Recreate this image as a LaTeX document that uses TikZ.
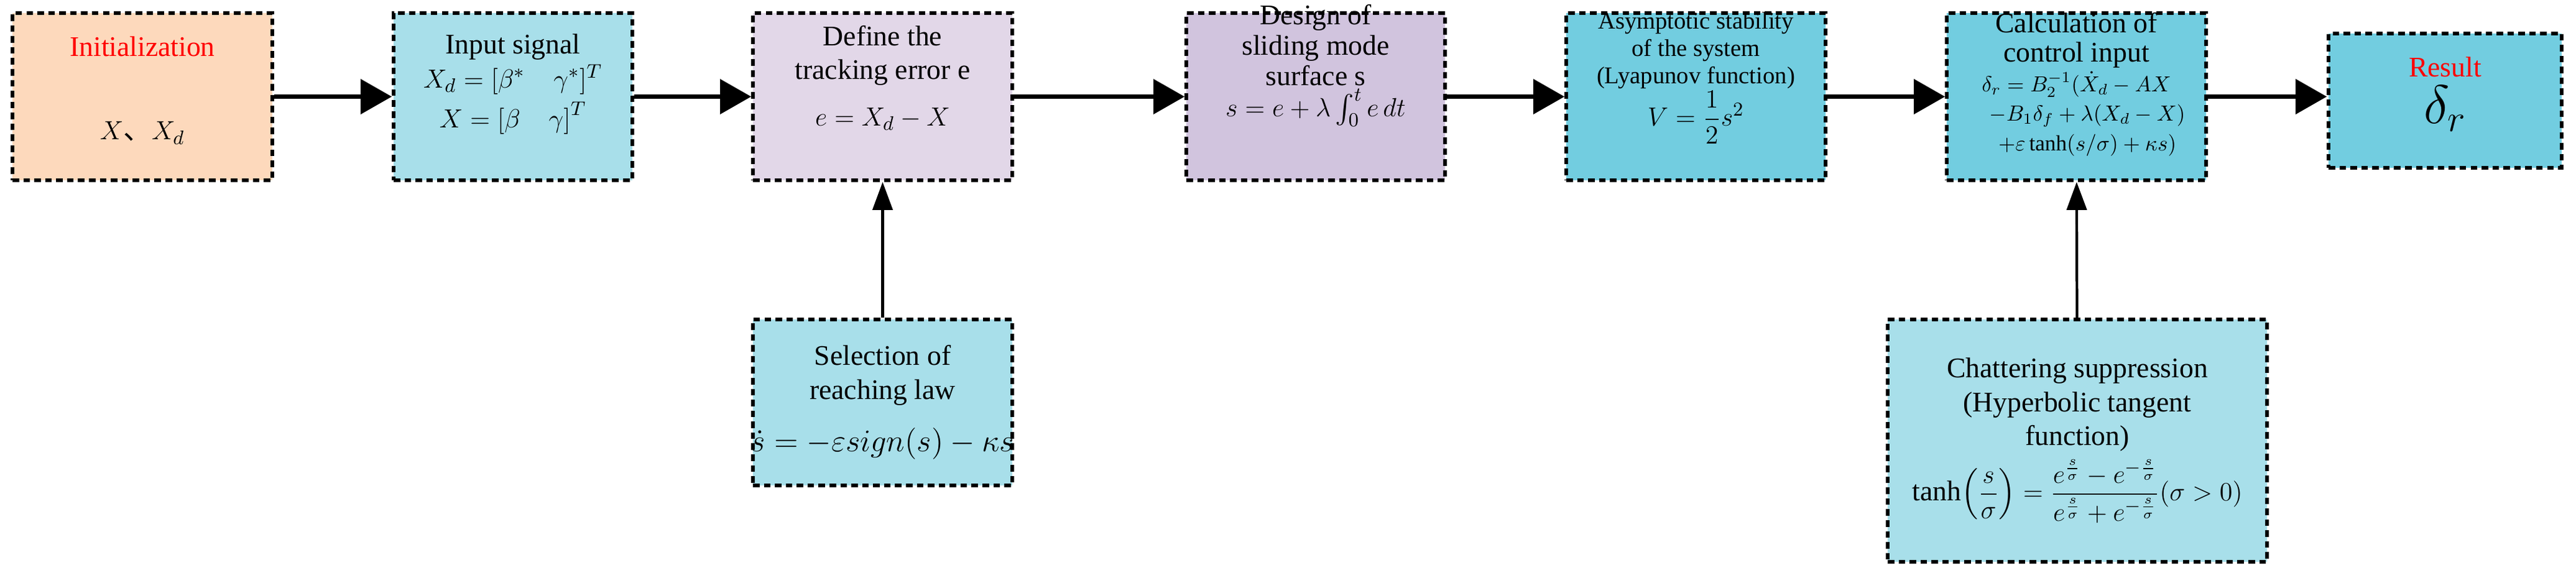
\documentclass[tikz,border=0pt]{standalone}
\usepackage{amsmath,amssymb}
\usepackage{fontspec}
\setmainfont{Liberation Serif}
\newfontfamily\cjk{Noto Sans CJK SC}
\usepackage{tikz}
\usetikzlibrary{
	arrows.meta,
	calc,
	positioning,
}
\definecolor{peach}{HTML}{FDD9BC}
\definecolor{lcyan}{HTML}{A8DFEA}
\definecolor{lavender}{HTML}{E2D7E8}
\definecolor{lilac}{HTML}{D1C4DE}
\definecolor{dcyan}{HTML}{72CDE0}
\tikzset{step box/.style={
	draw,
	densely dashed,
	line width=1.6pt,
	inner sep=0mm,
	minimum width=4.17cm,
	minimum height=2.69cm,
	},
	step text/.style={
	align=center,
	inner sep=0mm,
	font=\fontsize{13}{15.5}\selectfont,
	},
	main arrow/.style={line width=2pt,-{Triangle[length=5mm,width=5.5mm]}},
	side arrow/.style={line width=1.2pt,-{Triangle[length=4.5mm,width=3.2mm]}},
}

\begin{document}
\begin{tikzpicture}
\useasboundingbox (0,0) rectangle (41.43,9.29);

\node(init)[step box,fill=peach,minimum width=4.18cm,
	label={[step text,yshift=1mm]center:{\textcolor{red}{Initialization}\\[8mm] $X${\cjk 、}$X_d$}}] at(2.29,7.735) {};
\node(input)[step box,fill=lcyan,minimum width=3.84cm,
	label={[step text,yshift=2mm]center:{Input signal\\ $X_d=[\beta^{*}\quad\gamma^{*}]^{T}$\\[1mm] $X=\left[\beta\quad\gamma\right]^{T}$}}] at(8.25,7.735) {};
\node(error)[step box,fill=lavender,
	label={[step text,yshift=3mm]center:{Define the\\ tracking error e\\[2mm] $e=X_d-X$}}] at(14.195,7.735) {};
\node(surface)[step box,fill=lilac,minimum width=4.16cm,
	label={[step text,font=\fontsize{13}{14}\selectfont,yshift=5mm]center:{Design of\\ sliding mode\\ surface s\\ $s=e+\lambda\int_0^t e\,dt$}}] at(21.16,7.735) {};
\node(stable)[step box,fill=dcyan,
	label={[step text,font=\fontsize{11}{12.5}\selectfont,yshift=3mm]center:{Asymptotic stability\\ of the system\\ (Lyapunov function)\\ {\fontsize{13}{15}\selectfont$V=\dfrac{1}{2}s^{2}$}}}] at(27.275,7.735) {};
\node(control)[step box,fill=dcyan,
	label={[step text,font=\fontsize{13}{13.5}\selectfont,yshift=2mm]center:{Calculation of\\ control input\\
	{\fontsize{10}{13}\selectfont$\delta_r=B_2^{-1}(\dot{X}_d-AX$}\\
	{\fontsize{10}{13}\selectfont$\quad-B_1\delta_f+\lambda(X_d-X)$}\\
	{\fontsize{10}{13}\selectfont$\quad+\varepsilon\tanh(s/\sigma)+\kappa s)$}}}] at(33.395,7.735) {};
\node(result)[step box,fill=dcyan,minimum width=3.75cm,minimum height=2.16cm,
	label={[step text,yshift=1mm]center:{\textcolor{red}{Result}\\[1mm] {\fontsize{24}{26}\selectfont$\delta_r$}}}] at(39.325,7.67) {};

\node(reach)[step box,fill=lcyan,minimum height=2.67cm,
	label={[step text]center:{Selection of\\ reaching law\\[3mm] {\fontsize{15}{18}\selectfont$\dot{s}=-\varepsilon sign(s)-\kappa s$}}}] at(14.195,2.815) {};
\node(chatter)[step box,fill=lcyan,minimum width=6.1cm,minimum height=3.9cm,
	label={[step text]center:{Chattering suppression\\ (Hyperbolic tangent\\ function)\\[1mm]
	$\tanh\!\left(\dfrac{s}{\sigma}\right)=\dfrac{e^{\frac{s}{\sigma}}-e^{-\frac{s}{\sigma}}}{e^{\frac{s}{\sigma}}+e^{-\frac{s}{\sigma}}}(\sigma>0)$}}] at(33.41,2.2) {};

\foreach \u \v in {
	init/input,input/error%
	,error/surface,surface/stable%
	,stable/control,control/result%
}{
	\draw[main arrow] (\u.east|-init.east) -- (\v.west|-init.east);
}

\draw[side arrow] (reach) -- (error);
\draw[side arrow] (chatter) -- (control);
\end{tikzpicture}
\end{document}
